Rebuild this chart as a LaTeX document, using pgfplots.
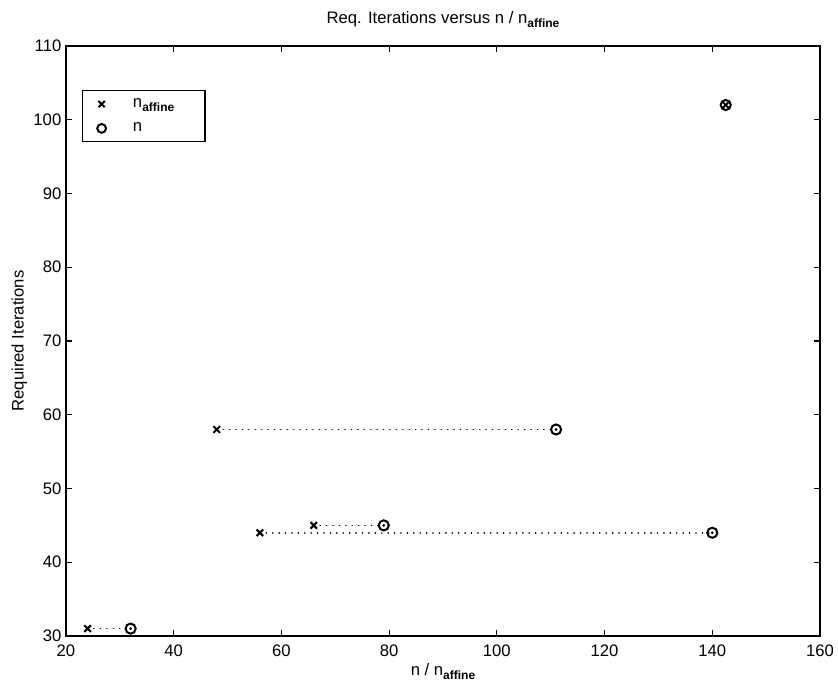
\documentclass[border=0pt]{standalone}
\usepackage{pgfplots}
\pgfplotsset{compat=1.18}
\usetikzlibrary{calc}
\usepackage{fontspec}
\setmainfont{Liberation Sans}
\newcommand{\sub}[1]{\raisebox{-0.5ex}{\fontsize{9}{10}\selectfont\bfseries #1}}
\begin{document}
\begin{tikzpicture}
\begin{axis}[
  name=ax,
  scale only axis,
  width=565.5pt, height=442.5pt,
  xmin=20, xmax=160, ymin=30, ymax=110,
  xtick={20,40,...,160}, ytick={30,40,...,110},
  tick align=inside, major tick length=4.5pt,
  tick style={black, line width=0.9pt},
  axis line style={line width=1.1pt},
  /pgf/number format/assume math mode=true,
  ticklabel style={font=\fontsize{12.5}{14}\selectfont},
  xticklabel style={yshift=-3pt},
  title={Req. Iterations versus n / n\sub{affine}},
  title style={font=\fontsize{12.5}{14}\selectfont, yshift=4pt},
  xlabel={n / n\sub{affine}},
  ylabel={Required Iterations},
  label style={font=\fontsize{12.5}{14}\selectfont},
  xlabel style={yshift=2pt},
  ylabel style={yshift=-2pt},
  legend style={at={(axis description cs:0,1)}, xshift=12pt, yshift=-33pt,
    anchor=north west,
    font=\fontsize{12.5}{14}\selectfont, draw=black, line width=0.9pt,
    inner xsep=3pt, inner ysep=4pt, row sep=6pt, legend cell align=left},
  legend image code/.code={\draw[#1, mark size=3.3pt] plot coordinates {(0.37cm,0cm)}; \path (0,0) (1.1cm,0);},
]
% dotted connectors
\pgfplotsset{conn/.style={black, line width=1.3pt, line cap=round, dash pattern=on 0.01pt off 4.8pt, forget plot}}
\addplot[conn] coordinates {(24,31) (32,31)};
\addplot[conn] coordinates {(48,58) (111,58)};
\addplot[conn] coordinates {(56,44) (140,44)};
\addplot[conn] coordinates {(66,45) (79,45)};
% n_affine
\addplot[only marks, mark=x, mark size=3.5pt, line width=1.5pt, black] coordinates {
(24,31) (48,58) (56,44) (66,45) (142.5,102)};
\addlegendentry{n\sub{affine}\rule{18pt}{0pt}}
% n
\addplot[only marks, mark=o, mark size=3.8pt, line width=1.5pt, black] coordinates {
(32,31) (111,58) (140,44) (79,45) (142.5,102)};
\addlegendentry{n}
\addplot[only marks, mark=*, mark size=0.8pt, black, forget plot] coordinates {
(32,31) (111,58) (140,44) (79,45)};
\end{axis}
\pgfresetboundingbox
\path (ax.south west) ++(-49.5pt,-40.5pt) rectangle ($(ax.north east)+(13.5pt,34.5pt)$);
\end{tikzpicture}
\end{document}
